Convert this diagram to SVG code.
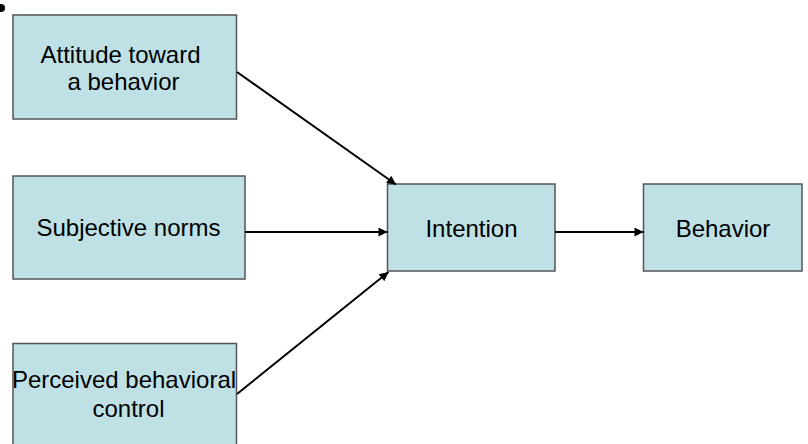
<svg xmlns="http://www.w3.org/2000/svg" width="808" height="444" viewBox="0 0 808 444">
<style>
.box{fill:#BFE0E5;stroke:#555555;stroke-width:1.5}
.lbl{font-family:"Liberation Sans",Arial,sans-serif;font-size:24px;fill:#000;text-anchor:middle}
.con{stroke:#000;stroke-width:2;fill:none;marker-end:url(#ah)}
</style>
<defs>
<marker id="ah" viewBox="0 0 10 10" refX="10" refY="5" markerWidth="5.5" markerHeight="4.5" orient="auto" markerUnits="strokeWidth">
<path d="M0,0 L10,5 L0,10 z" fill="#000"/>
</marker>
</defs>
<rect width="808" height="444" fill="#fff"/>
<circle cx="1" cy="8" r="4" fill="#000"/>
<g id="attitude">
<rect class="box" x="13" y="15" width="223.5" height="104"/>
<text class="lbl" x="120.5" y="63">Attitude toward</text>
<text class="lbl" x="123.5" y="90">a behavior</text>
</g>
<g id="norms">
<rect class="box" x="13" y="176" width="232" height="103"/>
<text class="lbl" x="128.5" y="236">Subjective norms</text>
</g>
<g id="control">
<rect class="box" x="13" y="343.5" width="223.5" height="110"/>
<text class="lbl" x="124" y="388">Perceived behavioral</text>
<text class="lbl" x="128.5" y="417">control</text>
</g>
<g id="intention">
<rect class="box" x="387.5" y="184" width="167.5" height="87"/>
<text class="lbl" x="471.5" y="236.5">Intention</text>
</g>
<g id="behavior">
<rect class="box" x="643.5" y="184" width="158.5" height="87"/>
<text class="lbl" x="723" y="236.5">Behavior</text>
</g>
<g id="connectors">
<line class="con" x1="237" y1="72" x2="396" y2="184.5"/>
<line class="con" x1="245" y1="232" x2="387.5" y2="232"/>
<line class="con" x1="237" y1="394" x2="388.5" y2="272"/>
<line class="con" x1="555" y1="232" x2="643.5" y2="232"/>
</g>
</svg>
